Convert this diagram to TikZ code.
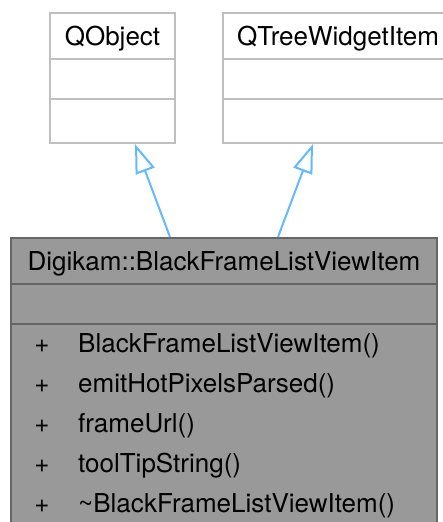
\documentclass[tikz,border=0pt]{standalone}
\usepackage{fontspec}
\setmainfont{TeX Gyre Heros}
\usetikzlibrary{arrows.meta,positioning}
\definecolor{umlgray}{HTML}{999999}
\definecolor{umlborder}{HTML}{666666}
\definecolor{extborder}{HTML}{BFBFBF}
\definecolor{inhblue}{HTML}{63B8FF}

\begin{document}
\begin{tikzpicture}[
    x=1pt, y=-1pt,
    font=\fontsize{26}{31}\selectfont,
    extbox/.style={rectangle, draw=extborder, fill=white, line width=2pt, inner sep=0pt, anchor=north west, text height=19pt, text depth=0pt},
    mainbox/.style={rectangle, draw=umlborder, fill=umlgray, line width=2pt, inner sep=0pt, anchor=north west, text height=19pt, text depth=0pt},
    member/.style={anchor=base west, inner sep=0pt},
    vis/.style={anchor=base, inner sep=0pt},
    inherit/.style={draw=inhblue, line width=2pt, -{Triangle[length=29pt, width=20pt, fill=white]}}
]
\useasboundingbox (0,0) rectangle (442,522);

% base classes
\node[extbox, minimum width=125pt, minimum height=46pt] (qobj_head) at (49,12) {QObject};
\node[extbox, minimum width=125pt, minimum height=40pt] (qobj_attr) at (49,58) {};
\node[extbox, minimum width=125pt, minimum height=44pt] (qobj_ops) at (49,98) {};

\node[extbox, minimum width=230pt, minimum height=46pt] (qtree_head) at (222,12) {QTreeWidgetItem};
\node[extbox, minimum width=230pt, minimum height=40pt] (qtree_attr) at (222,58) {};
\node[extbox, minimum width=230pt, minimum height=44pt] (qtree_ops) at (222,98) {};

% the class itself
\node[mainbox, minimum width=426pt, minimum height=46pt] (main_head) at (10,237) {Digikam::BlackFrameListViewItem};
\node[mainbox, minimum width=426pt, minimum height=40pt] (main_attr) at (10,283) {};
\node[mainbox, minimum width=426pt, minimum height=210pt] (main_ops) at (10,323) {};

\node[vis] (v1) at (42,352) {+};
\node[member] (m1) at (78,352) {BlackFrameListViewItem()};
\node[vis] (v2) at (42,392) {+};
\node[member] (m2) at (78,392) {emitHotPixelsParsed()};
\node[vis] (v3) at (42,432) {+};
\node[member] (m3) at (78,432) {frameUrl()};
\node[vis] (v4) at (42,472) {+};
\node[member] (m4) at (78,472) {toolTipString()};
\node[vis] (v5) at (42,512) {+};
\node[member] (m5) at (78,512) {\textasciitilde BlackFrameListViewItem()};

% inheritance
\draw[inherit] ([xshift=160pt]main_head.north west) -- ([xshift=86pt]qobj_ops.south west);
\draw[inherit] ([xshift=268pt]main_head.north west) -- ([xshift=91pt]qtree_ops.south west);
\end{tikzpicture}
\end{document}
